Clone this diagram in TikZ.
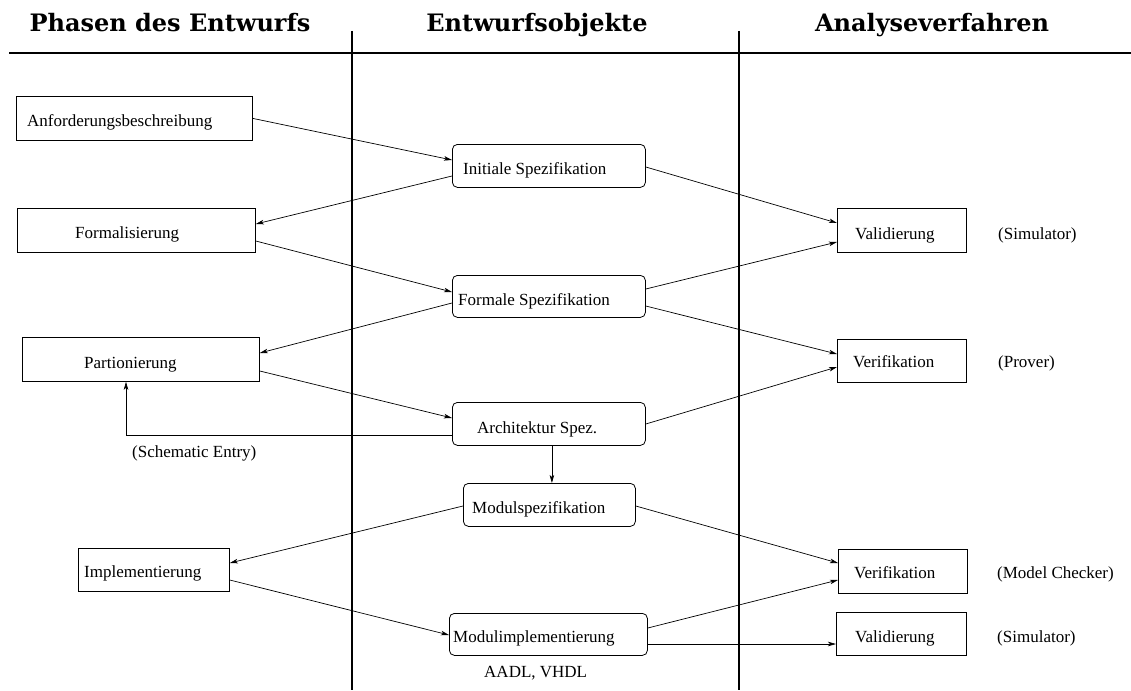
\documentclass[tikz,border=0pt]{standalone}
\usepackage{fontspec}
\setmainfont{Liberation Serif}
\newfontfamily\headfont{DejaVu Serif}
\usetikzlibrary{calc,arrows.meta}

\begin{document}
\begin{tikzpicture}[x=1pt,y=-1pt,
  every node/.style={font=\fontsize{17}{20}\selectfont},
  phasebox/.style={draw, line width=0.8pt, anchor=north west, inner sep=0pt},
  objbox/.style={phasebox, rounded corners=5pt},
  lbl/.style={anchor=base west, inner sep=0pt},
  head/.style={anchor=base, inner sep=0pt, font=\headfont\bfseries\fontsize{24}{27}\selectfont},
  rule/.style={line width=1.8pt},
  flow/.style={line width=0.7pt, -{Stealth[length=8pt,width=4.5pt,inset=2pt]}}]

\useasboundingbox (0,0) rectangle (1131,690);

% column headings and separating rules
\node[head] (h1) at (170,32) {Phasen des Entwurfs};
\node[head] (h2) at (537,32) {Entwurfsobjekte};
\node[head] (h3) at (932,32) {Analyseverfahren};
\coordinate (rl) at (9,53);
\coordinate (rr) at (1131,53);
\coordinate (c1t) at (352,31);
\coordinate (c1b) at (352,690);
\coordinate (c2t) at (739,31);
\coordinate (c2b) at (739,690);
\draw[rule] (rl) -- (rr);
\draw[rule] (c1t) -- (c1b);
\draw[rule] (c2t) -- (c2b);

% design phases
\node[phasebox, minimum width=236pt, minimum height=44pt] (anf) at (16,96) {};
\node[lbl] (anfT) at (27,127) {Anforderungsbeschreibung};
\node[phasebox, minimum width=238pt, minimum height=44pt] (form) at (17,208) {};
\node[lbl] (formT) at (75,238) {Formalisierung};
\node[phasebox, minimum width=237pt, minimum height=44pt] (part) at (22,337) {};
\node[lbl] (partT) at (84,368) {Partionierung};
\node[phasebox, minimum width=151pt, minimum height=43pt] (impl) at (78,548) {};
\node[lbl] (implT) at (84,577) {Implementierung};
\node[lbl] (schem) at (132,457) {(Schematic Entry)};

% design objects
\node[objbox, minimum width=193pt, minimum height=43pt] (init) at (452,144) {};
\node[lbl] (initT) at (463,174) {Initiale Spezifikation};
\node[objbox, minimum width=193pt, minimum height=42pt] (fspec) at (452,275) {};
\node[lbl] (fspecT) at (458,305) {Formale Spezifikation};
\node[objbox, minimum width=193pt, minimum height=43pt] (arch) at (452,402) {};
\node[lbl] (archT) at (477,433) {Architektur Spez.};
\node[objbox, minimum width=172pt, minimum height=43pt] (mspec) at (463,483) {};
\node[lbl] (mspecT) at (472,513) {Modulspezifikation};
\node[objbox, minimum width=198pt, minimum height=42pt] (mimpl) at (449,613) {};
\node[lbl] (mimplT) at (453,642) {Modulimplementierung};
\node[lbl] (hdl) at (484,677) {AADL, VHDL};

% analysis methods
\node[phasebox, minimum width=129pt, minimum height=44pt] (val1) at (837,208) {};
\node[lbl] (val1T) at (855,239) {Validierung};
\node[lbl] (sim1) at (998,239) {(Simulator)};
\node[phasebox, minimum width=129pt, minimum height=43pt] (ver1) at (837,339) {};
\node[lbl] (ver1T) at (853,367) {Verifikation};
\node[lbl] (prov) at (998,367) {(Prover)};
\node[phasebox, minimum width=129pt, minimum height=44pt] (ver2) at (838,549) {};
\node[lbl] (ver2T) at (854,578) {Verifikation};
\node[lbl] (mc) at (997,578) {(Model Checker)};
\node[phasebox, minimum width=130pt, minimum height=43pt] (val2) at (836,612) {};
\node[lbl] (val2T) at (855,642) {Validierung};
\node[lbl] (sim2) at (997,642) {(Simulator)};

% phases <-> objects
\draw[flow] (anf.east) -- ($(init.north west)+(0,16)$);
\draw[flow] ($(init.north west)+(0,32)$) -- ($(form.north east)+(0,16)$);
\draw[flow] ($(form.north east)+(0,33)$) -- ($(fspec.north west)+(0,17)$);
\draw[flow] ($(fspec.north west)+(0,28)$) -- ($(part.north east)+(0,16)$);
\draw[flow] ($(part.north east)+(0,34)$) -- ($(arch.north west)+(0,16)$);
\draw[flow] ($(arch.north west)+(0,33)$) -| ($(part.south west)+(104,0)$);
\draw[flow] ($(arch.south)+(3,0)$) coordinate (ad) -- (ad |- mspec.north);
\draw[flow] ($(mspec.north west)+(0,23)$) -- ($(impl.north east)+(0,15)$);
\draw[flow] ($(impl.north east)+(0,32)$) -- ($(mimpl.north west)+(0,22)$);

% objects -> analysis
\draw[flow] ($(init.north east)+(0,23)$) -- ($(val1.north west)+(0,15)$);
\draw[flow] ($(fspec.north east)+(0,14)$) -- ($(val1.north west)+(0,34)$);
\draw[flow] ($(fspec.north east)+(0,31)$) -- ($(ver1.north west)+(0,15)$);
\draw[flow] ($(arch.north east)+(0,22)$) -- ($(ver1.north west)+(0,28)$);
\draw[flow] ($(mspec.north east)+(0,23)$) -- ($(ver2.north west)+(0,14)$);
\draw[flow] ($(mimpl.north east)+(0,15)$) -- ($(ver2.north west)+(0,31)$);
\draw[flow] ($(mimpl.north east)+(0,31)$) coordinate (mv) -- (mv -| val2.west);
\end{tikzpicture}
\end{document}
